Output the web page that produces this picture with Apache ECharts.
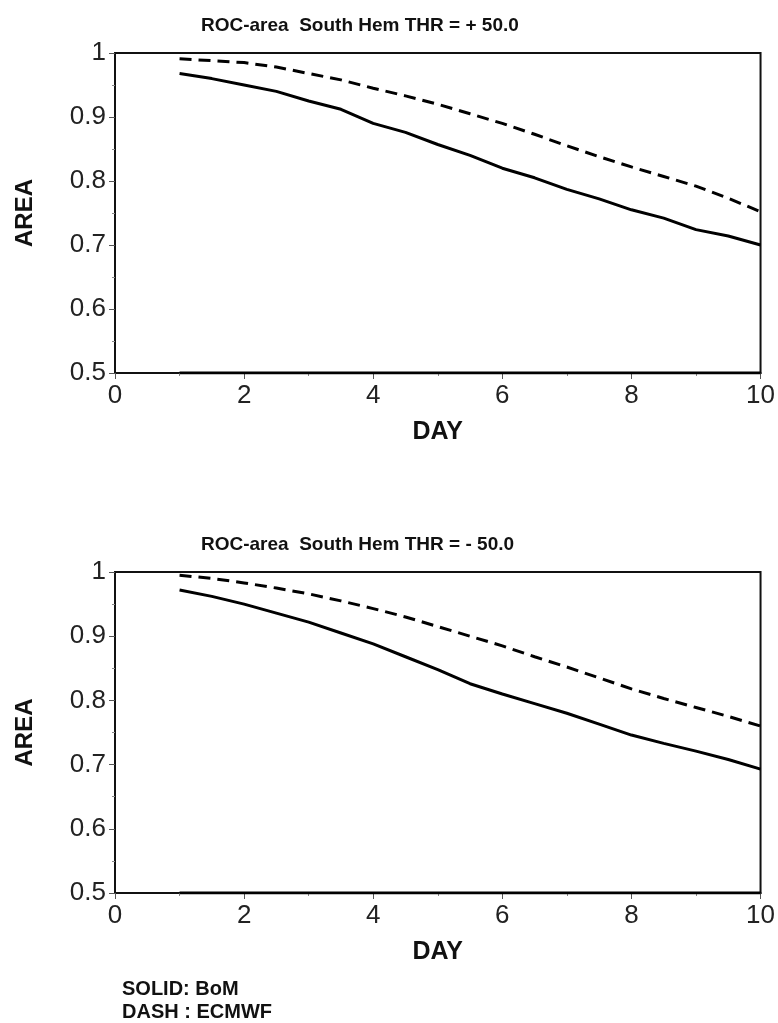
<!DOCTYPE html>
<html>
<head>
<meta charset="utf-8">
<script src="https://cdn.jsdelivr.net/npm/echarts@6/dist/echarts.min.js"></script>
<style>
  html, body { margin: 0; padding: 0; background: #fff; }
  #main { width: 778px; height: 1023px; }
</style>
</head>
<body>
<div id="main"></div>
<script>
// forecast day (12-hourly steps)
var days = [1, 1.5, 2, 2.5, 3, 3.5, 4, 4.5, 5, 5.5, 6, 6.5, 7, 7.5, 8, 8.5, 9, 9.5, 10];

// THR = +50.0
var bomPlus = [0.968, 0.960, 0.950, 0.940, 0.925, 0.912, 0.890, 0.876, 0.857, 0.840, 0.820, 0.805, 0.787, 0.772, 0.755, 0.742, 0.724, 0.714, 0.700];
var ecmwfPlus = [0.991, 0.988, 0.985, 0.978, 0.968, 0.958, 0.945, 0.933, 0.920, 0.905, 0.890, 0.873, 0.855, 0.838, 0.822, 0.807, 0.792, 0.773, 0.752];

// THR = -50.0
var bomMinus = [0.972, 0.962, 0.950, 0.936, 0.922, 0.905, 0.888, 0.868, 0.848, 0.826, 0.810, 0.795, 0.780, 0.763, 0.746, 0.733, 0.721, 0.708, 0.693];
var ecmwfMinus = [0.995, 0.990, 0.983, 0.975, 0.966, 0.955, 0.943, 0.930, 0.915, 0.900, 0.885, 0.868, 0.852, 0.835, 0.818, 0.803, 0.789, 0.775, 0.760];

// no-skill reference line
var noSkill = [0.5, 0.5, 0.5, 0.5, 0.5, 0.5, 0.5, 0.5, 0.5, 0.5, 0.5, 0.5, 0.5, 0.5, 0.5, 0.5, 0.5, 0.5, 0.5];

var titles = ['ROC-area  South Hem THR = + 50.0', 'ROC-area  South Hem THR = - 50.0'];
var legendLines = ['SOLID: BoM', 'DASH : ECMWF'];

function pairs(ys) {
  return days.map(function(d, i) { return [d, ys[i]]; });
}

var font = 'Liberation Sans, Arial, Helvetica, sans-serif';

function xAxisOf(idx) {
  return {
    type: 'value', gridIndex: idx, min: 0, max: 10, interval: 2,
    name: 'DAY', nameLocation: 'middle', nameGap: 47,
    nameTextStyle: { fontFamily: font, fontWeight: 'bold', fontSize: 25, color: '#111' },
    axisLine: { lineStyle: { color: '#111', width: 2 } },
    axisTick: { length: 6, lineStyle: { color: '#555', width: 1 } },
    minorTick: { show: true, splitNumber: 2, length: 3, lineStyle: { color: '#888' } },
    axisLabel: { fontFamily: font, fontSize: 26, color: '#222', margin: 10 },
    splitLine: { show: false }
  };
}

function yAxisOf(idx) {
  return {
    type: 'value', gridIndex: idx, min: 0.5, max: 1, interval: 0.1,
    name: 'AREA', nameLocation: 'middle', nameGap: 78,
    nameTextStyle: { fontFamily: font, fontWeight: 'bold', fontSize: 24, color: '#111' },
    axisLine: { show: true, lineStyle: { color: '#111', width: 2 } },
    axisTick: { length: 6, lineStyle: { color: '#555', width: 1 } },
    minorTick: { show: true, splitNumber: 2, length: 3, lineStyle: { color: '#888' } },
    axisLabel: {
      fontFamily: font, fontSize: 26, color: '#222', margin: 9,
      formatter: function(v) { return v === 1 ? '1' : v.toFixed(1); }
    },
    splitLine: { show: false }
  };
}

function lineSeries(idx, ys, dashed) {
  return {
    type: 'line', xAxisIndex: idx, yAxisIndex: idx, data: pairs(ys),
    showSymbol: false, animation: false,
    lineStyle: { color: '#000', width: 3, type: dashed ? [12, 7] : 'solid' }
  };
}

var chart = echarts.init(document.getElementById('main'));
chart.setOption({
  backgroundColor: '#fff',
  animation: false,
  title: [
    { text: titles[0], left: 196, top: 11, textStyle: { fontFamily: font, fontWeight: 'bold', fontSize: 19, color: '#111' } },
    { text: titles[1], left: 196, top: 530, textStyle: { fontFamily: font, fontWeight: 'bold', fontSize: 19, color: '#111' } }
  ],
  grid: [
    { left: 115, top: 53, width: 647, height: 320, show: true, borderColor: '#111', borderWidth: 2, backgroundColor: 'transparent' },
    { left: 115, top: 572, width: 647, height: 321, show: true, borderColor: '#111', borderWidth: 2, backgroundColor: 'transparent' }
  ],
  xAxis: [xAxisOf(0), xAxisOf(1)],
  yAxis: [yAxisOf(0), yAxisOf(1)],
  series: [
    lineSeries(0, bomPlus, false),
    lineSeries(0, ecmwfPlus, true),
    lineSeries(0, noSkill, false),
    lineSeries(1, bomMinus, false),
    lineSeries(1, ecmwfMinus, true),
    lineSeries(1, noSkill, false)
  ],
  graphic: [
    { type: 'text', left: 122, top: 979, style: { text: legendLines[0], font: 'bold 20px ' + font, fill: '#111' } },
    { type: 'text', left: 122, top: 1002, style: { text: legendLines[1], font: 'bold 20px ' + font, fill: '#111' } }
  ]
});
</script>
</body>
</html>
